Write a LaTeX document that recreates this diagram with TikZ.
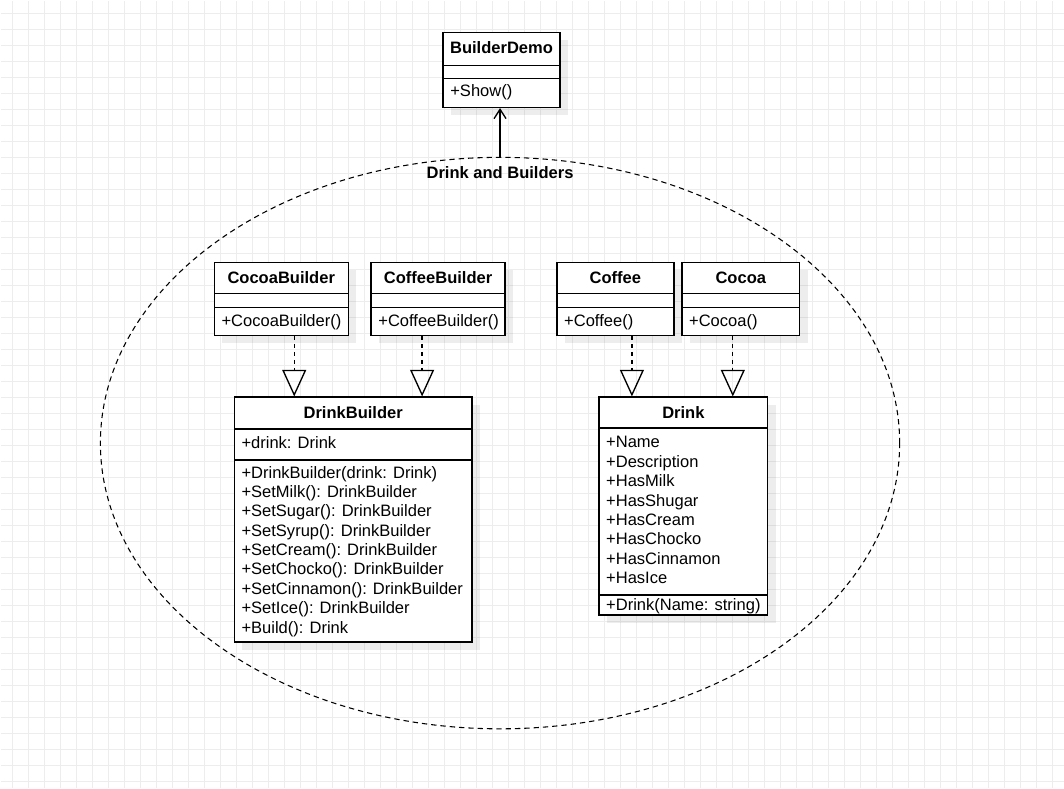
\documentclass[tikz,border=0pt]{standalone}
\usepackage{fontspec}
\setmainfont{Liberation Sans}
\usetikzlibrary{arrows.meta, shapes.geometric, shadows, fit, calc}

\begin{document}
\begin{tikzpicture}[x=0.75pt,y=-0.75pt,
  font=\fontsize{12.4}{14.6}\selectfont,
  gridline/.style={draw=black!7, line width=0.75pt},
  classbox/.style={draw, line width=1pt, fill=white, inner sep=0pt,
    drop shadow={shadow xshift=6pt, shadow yshift=-6pt, fill=black, opacity=0.07}},
  sepline/.style={line width=1pt},
  title/.style={anchor=base, inner sep=0pt, font=\fontsize{12.4}{14.6}\selectfont\bfseries},
  member/.style={anchor=base west, inner sep=0pt},
  realize/.style={line width=1pt, dash pattern=on 3pt off 3pt, -{Triangle[open, length=20pt, width=18pt]}},
  uses/.style={line width=1pt, -{Straight Barb[length=7pt, width=9pt]}}]

% background grid
\fill[white] (0,0) rectangle (1064,788);
\foreach \x in {12.5,28.5,...,1060.5} \draw[gridline] (\x,0) -- (\x,788);
\foreach \y in {13.5,29.5,...,781.5} \draw[gridline] (0,\y) -- (1064,\y);
\useasboundingbox (0,0) rectangle (1064,788);

% group
\node[draw, ellipse, line width=0.8pt, dash pattern=on 4pt off 3pt, inner sep=0pt,
  minimum width=600pt, minimum height=429pt] (grp) at (500,443) {};
\node[title] (grp-t) at (500,178.5) {Drink and Builders};

% BuilderDemo
\node[classbox, fit={(443,32) (560,107)}] (demo) {};
\draw[sepline] (443,65) -- (560,65) (443,78) -- (560,78);
\node[title] (demo-t) at (501.5,53.5) {BuilderDemo};
\node[member] (demo-m) at (450,96) {+Show()};

% builders
\node[classbox, fit={(214,262) (348,335)}] (cocoab) {};
\draw[sepline] (214,293) -- (348,293) (214,307) -- (348,307);
\node[title] (cocoab-t) at (281,283) {CocoaBuilder};
\node[member] (cocoab-m) at (221,326) {+CocoaBuilder()};

\node[classbox, fit={(371,262) (505,335)}] (coffeeb) {};
\draw[sepline] (371,293) -- (505,293) (371,307) -- (505,307);
\node[title] (coffeeb-t) at (438,283) {CoffeeBuilder};
\node[member] (coffeeb-m) at (378,326) {+CoffeeBuilder()};

\node[classbox, fit={(234,397) (472,642)}] (drinkb) {};
\draw[sepline] (234,429) -- (472,429) (234,460) -- (472,460);
\node[title] (drinkb-t) at (353,418) {DrinkBuilder};
\node[member] (drinkb-a) at (241,448) {+drink: Drink};
\foreach \t [count=\i from 0] in {+DrinkBuilder(drink: Drink), +SetMilk(): DrinkBuilder,
    +SetSugar(): DrinkBuilder, +SetSyrup(): DrinkBuilder, +SetCream(): DrinkBuilder,
    +SetChocko(): DrinkBuilder, +SetCinnamon(): DrinkBuilder, +SetIce(): DrinkBuilder,
    +Build(): Drink}
  \node[member] (drinkb-m\i) at (241,478+19.4*\i) {\t};

% drinks
\node[classbox, fit={(557,262) (674,335)}] (coffee) {};
\draw[sepline] (557,293) -- (674,293) (557,307) -- (674,307);
\node[title] (coffee-t) at (615.5,283) {Coffee};
\node[member] (coffee-m) at (564,326) {+Coffee()};

\node[classbox, fit={(682,262) (800,335)}] (cocoa) {};
\draw[sepline] (682,293) -- (800,293) (682,307) -- (800,307);
\node[title] (cocoa-t) at (741,283) {Cocoa};
\node[member] (cocoa-m) at (689,326) {+Cocoa()};

\node[classbox, fit={(599,397) (768,615)}] (drink) {};
\draw[sepline] (599,428) -- (768,428) (599,595) -- (768,595);
\node[title] (drink-t) at (683.5,418) {Drink};
\foreach \t [count=\i from 0] in {+Name, +Description, +HasMilk, +HasShugar,
    +HasCream, +HasChocko, +HasCinnamon, +HasIce}
  \node[member] (drink-a\i) at (606,447.5+19.5*\i) {\t};
\node[member] (drink-m) at (606,611) {+Drink(Name: string)};

% connectors
\coordinate (k1) at ($(cocoab.south)+(13,0)$);
\coordinate (k2) at ($(coffeeb.south)+(-16,0)$);
\coordinate (k3) at ($(coffee.south)+(16.5,0)$);
\coordinate (k4) at ($(cocoa.south)+(-8,0)$);
\draw[realize] (k1) -- (k1 |- drinkb.north);
\draw[realize] (k2) -- (k2 |- drinkb.north);
\draw[realize] (k3) -- (k3 |- drink.north);
\draw[realize] (k4) -- (k4 |- drink.north);
\draw[uses] (grp.north) -- (grp.north |- demo.south);
\end{tikzpicture}
\end{document}
